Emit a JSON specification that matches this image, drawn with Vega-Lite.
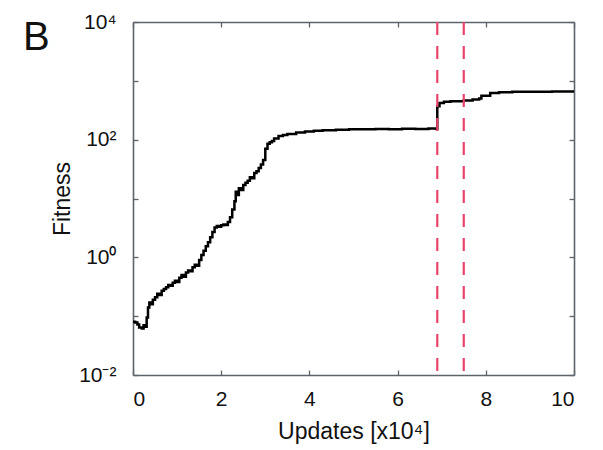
{
  "$schema": "https://vega.github.io/schema/vega-lite/v6.json",
  "width": 441,
  "height": 353,
  "autosize": {"type": "none"},
  "padding": {"left": 133, "top": 22, "right": 29, "bottom": 75},
  "background": "white",
  "config": {
    "view": {"stroke": null},
    "font": "Liberation Sans",
    "axis": {
      "domainColor": "#5c636b",
      "domainWidth": 1.6,
      "tickColor": "#5c636b",
      "tickWidth": 1.3,
      "tickSize": -5,
      "grid": false,
      "labelColor": "#111",
      "titleColor": "#111",
      "labelFont": "Liberation Sans",
      "titleFont": "Liberation Sans",
      "labelFontSize": 21,
      "titleFontSize": 23,
      "titleFontWeight": "normal"
    }
  },
  "title": {
    "text": "B",
    "fontSize": 40,
    "fontWeight": "normal",
    "font": "Liberation Sans",
    "color": "#111",
    "anchor": "start",
    "frame": "group",
    "orient": "top",
    "offset": 0,
    "dx": -110,
    "dy": 79,
    "baseline": "alphabetic"
  },
  "data": {
    "values": [
      {"updates": 0.00, "fitness": 0.080},
      {"updates": 0.05, "fitness": 0.078},
      {"updates": 0.10, "fitness": 0.072},
      {"updates": 0.14, "fitness": 0.064},
      {"updates": 0.20, "fitness": 0.062},
      {"updates": 0.24, "fitness": 0.070},
      {"updates": 0.28, "fitness": 0.066},
      {"updates": 0.31, "fitness": 0.095},
      {"updates": 0.34, "fitness": 0.14},
      {"updates": 0.37, "fitness": 0.17},
      {"updates": 0.41, "fitness": 0.16},
      {"updates": 0.45, "fitness": 0.19},
      {"updates": 0.50, "fitness": 0.21},
      {"updates": 0.55, "fitness": 0.24},
      {"updates": 0.60, "fitness": 0.23},
      {"updates": 0.65, "fitness": 0.27},
      {"updates": 0.70, "fitness": 0.29},
      {"updates": 0.75, "fitness": 0.31},
      {"updates": 0.80, "fitness": 0.34},
      {"updates": 0.85, "fitness": 0.33},
      {"updates": 0.90, "fitness": 0.37},
      {"updates": 0.95, "fitness": 0.40},
      {"updates": 1.00, "fitness": 0.38},
      {"updates": 1.05, "fitness": 0.45},
      {"updates": 1.10, "fitness": 0.50},
      {"updates": 1.15, "fitness": 0.47},
      {"updates": 1.20, "fitness": 0.55},
      {"updates": 1.25, "fitness": 0.60},
      {"updates": 1.30, "fitness": 0.58},
      {"updates": 1.35, "fitness": 0.68},
      {"updates": 1.40, "fitness": 0.75},
      {"updates": 1.45, "fitness": 0.72},
      {"updates": 1.50, "fitness": 0.90},
      {"updates": 1.55, "fitness": 1.10},
      {"updates": 1.60, "fitness": 1.30},
      {"updates": 1.65, "fitness": 1.55},
      {"updates": 1.70, "fitness": 1.80},
      {"updates": 1.75, "fitness": 2.20},
      {"updates": 1.80, "fitness": 2.70},
      {"updates": 1.85, "fitness": 3.20},
      {"updates": 1.90, "fitness": 3.40},
      {"updates": 1.95, "fitness": 3.30},
      {"updates": 2.00, "fitness": 3.50},
      {"updates": 2.05, "fitness": 3.60},
      {"updates": 2.10, "fitness": 3.55},
      {"updates": 2.15, "fitness": 4.00},
      {"updates": 2.20, "fitness": 4.80},
      {"updates": 2.25, "fitness": 6.50},
      {"updates": 2.30, "fitness": 9.00},
      {"updates": 2.33, "fitness": 13.0},
      {"updates": 2.36, "fitness": 11.5},
      {"updates": 2.40, "fitness": 15.0},
      {"updates": 2.45, "fitness": 14.0},
      {"updates": 2.50, "fitness": 17.0},
      {"updates": 2.55, "fitness": 18.5},
      {"updates": 2.60, "fitness": 20.0},
      {"updates": 2.65, "fitness": 23.0},
      {"updates": 2.70, "fitness": 22.0},
      {"updates": 2.75, "fitness": 27.0},
      {"updates": 2.80, "fitness": 29.0},
      {"updates": 2.85, "fitness": 33.0},
      {"updates": 2.90, "fitness": 38.0},
      {"updates": 2.95, "fitness": 45.0},
      {"updates": 3.00, "fitness": 70.0},
      {"updates": 3.05, "fitness": 85.0},
      {"updates": 3.10, "fitness": 90.0},
      {"updates": 3.15, "fitness": 95.0},
      {"updates": 3.20, "fitness": 105},
      {"updates": 3.30, "fitness": 115},
      {"updates": 3.40, "fitness": 120},
      {"updates": 3.50, "fitness": 125},
      {"updates": 3.70, "fitness": 132},
      {"updates": 3.90, "fitness": 138},
      {"updates": 4.10, "fitness": 142},
      {"updates": 4.30, "fitness": 145},
      {"updates": 4.60, "fitness": 148},
      {"updates": 4.90, "fitness": 150},
      {"updates": 5.20, "fitness": 150},
      {"updates": 5.50, "fitness": 152},
      {"updates": 5.80, "fitness": 150},
      {"updates": 6.10, "fitness": 153},
      {"updates": 6.40, "fitness": 152},
      {"updates": 6.70, "fitness": 155},
      {"updates": 6.88, "fitness": 152},
      {"updates": 6.90, "fitness": 370},
      {"updates": 6.95, "fitness": 420},
      {"updates": 7.05, "fitness": 440},
      {"updates": 7.20, "fitness": 450},
      {"updates": 7.50, "fitness": 465},
      {"updates": 7.70, "fitness": 480},
      {"updates": 7.85, "fitness": 500},
      {"updates": 7.90, "fitness": 560},
      {"updates": 8.10, "fitness": 620},
      {"updates": 8.30, "fitness": 640},
      {"updates": 8.60, "fitness": 650},
      {"updates": 9.00, "fitness": 655},
      {"updates": 9.50, "fitness": 660},
      {"updates": 10.0, "fitness": 660}
    ]
  },
  "layer": [
    {
      "mark": {"type": "line", "color": "#000", "strokeWidth": 2.5, "interpolate": "step-after"},
      "encoding": {
        "x": {
          "field": "updates", "type": "quantitative",
          "scale": {"domain": [0, 10], "nice": false, "zero": false},
          "axis": {"orient": "bottom", "values": [0, 2, 4, 6, 8, 10], "title": "Updates [x10⁴]", "labelPadding": 18, "titlePadding": 11}
        },
        "y": {
          "field": "fitness", "type": "quantitative",
          "scale": {"type": "log", "domain": [0.01, 10000], "nice": false},
          "axis": {
            "orient": "left",
            "values": [0.01, 0.1, 1, 10, 100, 1000, 10000],
            "labelExpr": "datum.value == 10000 ? '10⁴' : datum.value == 100 ? '10²' : datum.value == 1 ? '10⁰' : datum.value == 0.01 ? '10⁻²' : ''",
            "title": "Fitness",
            "labelPadding": 22,
            "titlePadding": 4
          }
        }
      }
    },
    {
      "data": {"values": [{"updates": 6.9}, {"updates": 7.5}]},
      "mark": {"type": "rule", "color": "#e8456a", "strokeWidth": 2.2, "strokeDash": [13, 11]},
      "encoding": {
        "x": {"field": "updates", "type": "quantitative", "axis": null}
      }
    },
    {
      "mark": {"type": "point", "opacity": 0},
      "encoding": {
        "x": {
          "field": "updates", "type": "quantitative",
          "axis": {"orient": "top", "values": [0, 2, 4, 6, 8, 10], "labels": false, "title": null}
        },
        "y": {
          "field": "fitness", "type": "quantitative",
          "axis": {"orient": "right", "values": [0.01, 0.1, 1, 10, 100, 1000, 10000], "labels": false, "title": null}
        }
      }
    }
  ],
  "resolve": {"axis": {"x": "independent", "y": "independent"}}
}
